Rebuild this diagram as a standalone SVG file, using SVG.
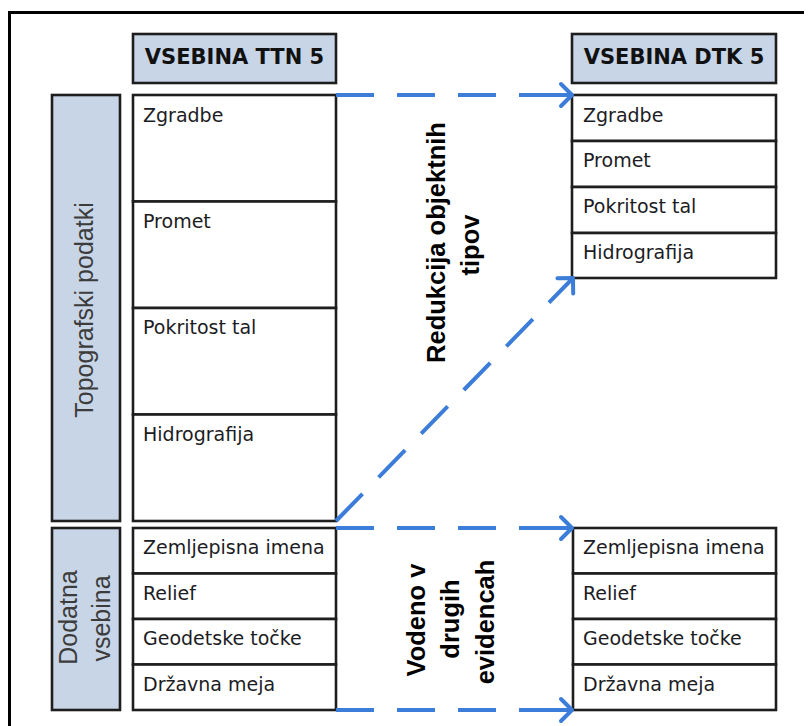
<svg xmlns="http://www.w3.org/2000/svg" width="808" height="726" viewBox="0 0 808 726">
<style>
.frame{fill:none;stroke:#000;stroke-width:3}
.hdr{fill:#C8D5E6;stroke:#1e1e1e;stroke-width:2.6}
.cell{fill:#fff;stroke:#1e1e1e;stroke-width:2.6}
.side{fill:#C8D5E6;stroke:#1e1e1e;stroke-width:2.6}
.ht{font-family:"DejaVu Sans",sans-serif;font-weight:bold;font-size:21px;fill:#111;text-anchor:middle}
.ct{font-family:"DejaVu Sans",sans-serif;font-size:19px;fill:#1c1c24}
.st{font-family:"Liberation Sans",Arial,sans-serif;font-size:25px;fill:#3c3c3c;text-anchor:middle}
.bt{font-family:"Liberation Sans",Arial,sans-serif;font-weight:bold;font-size:25.5px;fill:#000;text-anchor:middle}
.arr{fill:none;stroke:#3B7DD8;stroke-width:4;marker-end:url(#chev)}
</style>
<defs>
<marker id="chev" markerUnits="userSpaceOnUse" viewBox="-16 -16 32 32" markerWidth="32" markerHeight="32" refX="0" refY="0" orient="auto" overflow="visible">
<path d="M-11,-11 L0,0 L-11,11" fill="none" stroke="#3B7DD8" stroke-width="4" stroke-linecap="round" stroke-linejoin="round"/>
</marker>
</defs>
<rect width="808" height="726" fill="#fff"/>
<path class="frame" d="M9.5,726 V12.5 H804"/>

<g id="hdr-ttn"><rect class="hdr" x="133" y="34" width="203" height="49"/><text class="ht" x="234.5" y="64">VSEBINA TTN 5</text></g>
<g id="hdr-dtk"><rect class="hdr" x="572" y="34" width="204" height="49"/><text class="ht" x="674" y="64">VSEBINA DTK 5</text></g>

<g id="side-topo"><rect class="side" x="52" y="95" width="68" height="426"/><text class="st" transform="translate(93,310) rotate(-90)">Topografski podatki</text></g>
<g id="side-dod"><rect class="side" x="52" y="528" width="68" height="182"/><text class="st" transform="translate(77,617.5) rotate(-90)">Dodatna</text><text class="st" transform="translate(110,618.5) rotate(-90)">vsebina</text></g>

<g id="ttn-zgradbe"><rect class="cell" x="133" y="95" width="203" height="106.5"/><text class="ct" x="143" y="121.5">Zgradbe</text></g>
<g id="ttn-promet"><rect class="cell" x="133" y="201.5" width="203" height="106.5"/><text class="ct" x="143" y="228">Promet</text></g>
<g id="ttn-pokritost"><rect class="cell" x="133" y="308" width="203" height="106.5"/><text class="ct" x="143" y="334">Pokritost tal</text></g>
<g id="ttn-hidro"><rect class="cell" x="133" y="414.5" width="203" height="106.5"/><text class="ct" x="143" y="441">Hidrografija</text></g>

<g id="ttn-imena"><rect class="cell" x="133" y="528" width="203" height="45.5"/><text class="ct" x="143" y="553.5">Zemljepisna imena</text></g>
<g id="ttn-relief"><rect class="cell" x="133" y="573.5" width="203" height="45.5"/><text class="ct" x="143" y="599.5">Relief</text></g>
<g id="ttn-geod"><rect class="cell" x="133" y="619" width="203" height="45.5"/><text class="ct" x="143" y="645">Geodetske točke</text></g>
<g id="ttn-meja"><rect class="cell" x="133" y="664.5" width="203" height="45.5"/><text class="ct" x="143" y="691">Državna meja</text></g>

<g id="dtk-zgradbe"><rect class="cell" x="572" y="95" width="204" height="46"/><text class="ct" x="583" y="121.5">Zgradbe</text></g>
<g id="dtk-promet"><rect class="cell" x="572" y="141" width="204" height="46"/><text class="ct" x="583" y="167">Promet</text></g>
<g id="dtk-pokritost"><rect class="cell" x="572" y="187" width="204" height="46"/><text class="ct" x="583" y="213">Pokritost tal</text></g>
<g id="dtk-hidro"><rect class="cell" x="572" y="233" width="204" height="45"/><text class="ct" x="583" y="258.5">Hidrografija</text></g>

<g id="dtk-imena"><rect class="cell" x="573" y="528" width="203" height="45.5"/><text class="ct" x="583" y="553.5">Zemljepisna imena</text></g>
<g id="dtk-relief"><rect class="cell" x="573" y="573.5" width="203" height="45.5"/><text class="ct" x="583" y="599.5">Relief</text></g>
<g id="dtk-geod"><rect class="cell" x="573" y="619" width="203" height="45.5"/><text class="ct" x="583" y="645">Geodetske točke</text></g>
<g id="dtk-meja"><rect class="cell" x="573" y="664.5" width="203" height="45.5"/><text class="ct" x="583" y="691">Državna meja</text></g>

<g id="connectors">
<path class="arr" d="M336,95 H572" stroke-dasharray="38 23 38 23 38 23 60"/>
<path class="arr" d="M336,521 L573,278" stroke-dasharray="38 23"/>
<path class="arr" d="M336,528 H572" stroke-dasharray="38 23 38 23 38 23 60"/>
<path class="arr" d="M336,710 H572" stroke-dasharray="38 23 38 23 38 23 60"/>
</g>

<g id="label-redukcija">
<text class="bt" transform="translate(445,242.5) rotate(-90)">Redukcija objektnih</text>
<text class="bt" transform="translate(479,245) rotate(-90)">tipov</text>
</g>
<g id="label-vodeno">
<text class="bt" transform="translate(425,620) rotate(-90)">Vodeno v</text>
<text class="bt" transform="translate(459,619) rotate(-90)">drugih</text>
<text class="bt" transform="translate(494,622) rotate(-90)">evidencah</text>
</g>
</svg>
